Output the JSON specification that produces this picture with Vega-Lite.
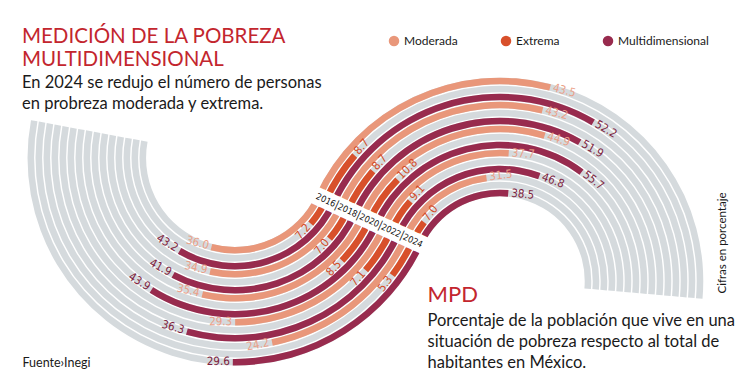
{
  "$schema": "https://vega.github.io/schema/vega-lite/v6.json",
  "width": 750,
  "height": 390,
  "autosize": {"type": "none"},
  "padding": 0,
  "background": "white",
  "title": {
    "text": ["MEDICIÓN DE LA POBREZA", "MULTIDIMENSIONAL"],
    "subtitle": ["En 2024 se redujo el número de personas", "en probreza moderada y extrema."],
    "anchor": "start",
    "frame": "group",
    "orient": "top",
    "offset": -112,
    "dx": 22,
    "font": "Lato",
    "fontSize": 20.5,
    "fontWeight": "normal",
    "color": "#c3262e",
    "lineHeight": 23,
    "subtitleFont": "Lato",
    "subtitleFontSize": 16.5,
    "subtitleColor": "#1a1a1a",
    "subtitleLineHeight": 21,
    "subtitlePadding": 4
  },
  "datasets": {
    "porcentaje": [
      {"medida": "Porcentaje", "anio": "2016", "serie": "Moderada", "key": "2016 Moderada", "valor": 36.0},
      {"medida": "Porcentaje", "anio": "2016", "serie": "Extrema", "key": "2016 Extrema", "valor": 7.2},
      {"medida": "Porcentaje", "anio": "2016", "serie": "Multidimensional", "key": "2016 Multidimensional", "valor": 43.2},
      {"medida": "Porcentaje", "anio": "2018", "serie": "Moderada", "key": "2018 Moderada", "valor": 34.9},
      {"medida": "Porcentaje", "anio": "2018", "serie": "Extrema", "key": "2018 Extrema", "valor": 7.0},
      {"medida": "Porcentaje", "anio": "2018", "serie": "Multidimensional", "key": "2018 Multidimensional", "valor": 41.9},
      {"medida": "Porcentaje", "anio": "2020", "serie": "Moderada", "key": "2020 Moderada", "valor": 35.4},
      {"medida": "Porcentaje", "anio": "2020", "serie": "Extrema", "key": "2020 Extrema", "valor": 8.5},
      {"medida": "Porcentaje", "anio": "2020", "serie": "Multidimensional", "key": "2020 Multidimensional", "valor": 43.9},
      {"medida": "Porcentaje", "anio": "2022", "serie": "Moderada", "key": "2022 Moderada", "valor": 29.3},
      {"medida": "Porcentaje", "anio": "2022", "serie": "Extrema", "key": "2022 Extrema", "valor": 7.1},
      {"medida": "Porcentaje", "anio": "2022", "serie": "Multidimensional", "key": "2022 Multidimensional", "valor": 36.3},
      {"medida": "Porcentaje", "anio": "2024", "serie": "Moderada", "key": "2024 Moderada", "valor": 24.2},
      {"medida": "Porcentaje", "anio": "2024", "serie": "Extrema", "key": "2024 Extrema", "valor": 5.3},
      {"medida": "Porcentaje", "anio": "2024", "serie": "Multidimensional", "key": "2024 Multidimensional", "valor": 29.6}
    ],
    "personas": [
      {"medida": "Millones", "anio": "2016", "serie": "Moderada", "key": "2016 Moderada", "valor": 43.5},
      {"medida": "Millones", "anio": "2016", "serie": "Extrema", "key": "2016 Extrema", "valor": 8.7},
      {"medida": "Millones", "anio": "2016", "serie": "Multidimensional", "key": "2016 Multidimensional", "valor": 52.2},
      {"medida": "Millones", "anio": "2018", "serie": "Moderada", "key": "2018 Moderada", "valor": 43.2},
      {"medida": "Millones", "anio": "2018", "serie": "Extrema", "key": "2018 Extrema", "valor": 8.7},
      {"medida": "Millones", "anio": "2018", "serie": "Multidimensional", "key": "2018 Multidimensional", "valor": 51.9},
      {"medida": "Millones", "anio": "2020", "serie": "Moderada", "key": "2020 Moderada", "valor": 44.9},
      {"medida": "Millones", "anio": "2020", "serie": "Extrema", "key": "2020 Extrema", "valor": 10.8},
      {"medida": "Millones", "anio": "2020", "serie": "Multidimensional", "key": "2020 Multidimensional", "valor": 55.7},
      {"medida": "Millones", "anio": "2022", "serie": "Moderada", "key": "2022 Moderada", "valor": 37.7},
      {"medida": "Millones", "anio": "2022", "serie": "Extrema", "key": "2022 Extrema", "valor": 9.1},
      {"medida": "Millones", "anio": "2022", "serie": "Multidimensional", "key": "2022 Multidimensional", "valor": 46.8},
      {"medida": "Millones", "anio": "2024", "serie": "Moderada", "key": "2024 Moderada", "valor": 31.5},
      {"medida": "Millones", "anio": "2024", "serie": "Extrema", "key": "2024 Extrema", "valor": 7.0},
      {"medida": "Millones", "anio": "2024", "serie": "Multidimensional", "key": "2024 Multidimensional", "valor": 38.5}
    ]
  },
  "layer": [
    {
      "data": {"name": "porcentaje"},
      "encoding": {
        "x": {"field": "medida", "type": "nominal", "scale": {"type": "point", "domain": ["Porcentaje"], "range": [235, 235]},
          "axis": {"orient": "bottom", "labels": false, "ticks": false, "domain": false, "grid": false,
            "title": "MPD", "titleX": 427, "titleY": -89, "titleAlign": "left", "titleBaseline": "alphabetic", "titleAngle": 0,
            "titleFont": "Lato", "titleFontSize": 22, "titleFontWeight": "normal", "titleColor": "#c3262e"}},
        "y": {"field": "medida", "type": "nominal", "scale": {"type": "point", "domain": ["Porcentaje"], "range": [158, 158]},
          "axis": {"orient": "right", "labels": false, "ticks": false, "domain": false, "grid": false,
            "title": "Cifras en porcentaje", "titleX": -25, "titleY": 293, "titleAlign": "left", "titleBaseline": "alphabetic", "titleAngle": 270,
            "titleFont": "Lato", "titleFontSize": 11.5, "titleFontWeight": "normal", "titleColor": "#1a1a1a"}}
      },
      "layer": [
        {
          "mark": {"type": "arc", "color": "#d5dadd"},
          "encoding": {
            "theta": {"datum": 0, "type": "quantitative", "scale": {"domain": [0, 100], "range": [2.0054, 5.88], "nice": false, "zero": false}},
            "theta2": {"datum": 74.6},
            "radius": {"field": "key", "type": "ordinal", "scale": {"type": "band", "domain": ["2016 Moderada","2016 Extrema","2016 Multidimensional","2018 Moderada","2018 Extrema","2018 Multidimensional","2020 Moderada","2020 Extrema","2020 Multidimensional","2022 Moderada","2022 Extrema","2022 Multidimensional","2024 Moderada","2024 Extrema","2024 Multidimensional"], "range": [88.2, 208.2], "paddingInner": 0.18, "paddingOuter": 0.09}}
          }
        },
        {
          "mark": {"type": "arc"},
          "encoding": {
            "theta": {"field": "valor", "type": "quantitative", "stack": null},
            "theta2": {"datum": 0},
            "radius": {"field": "key", "type": "ordinal"},
            "color": {"field": "serie", "type": "nominal", "scale": {"domain": ["Moderada", "Extrema", "Multidimensional"], "range": ["#e9977a", "#d8502b", "#982b4e"]}, "title": null}
          }
        },
        {
          "mark": {"type": "text", "align": "right", "baseline": "middle", "dx": -3, "font": "Liberation Sans Narrow, DejaVu Sans Condensed, sans-serif", "fontSize": 11.5},
          "encoding": {
            "theta": {"field": "valor", "type": "quantitative", "stack": null},
            "radius": {"field": "key", "type": "ordinal"},
            "text": {"field": "valor", "type": "quantitative", "format": ".1f"},
            "angle": {"field": "valor", "type": "quantitative", "scale": {"domain": [0, 100], "range": [-65.1, 156.9], "nice": false, "zero": false}, "legend": null},
            "fill": {"field": "serie", "type": "nominal", "scale": {"domain": ["Moderada", "Extrema", "Multidimensional"], "range": ["#eba088", "#d34a27", "#7f1f40"]}, "legend": null}
          }
        }
      ]
    },
    {
      "data": {"name": "personas"},
      "encoding": {
        "x": {"field": "medida", "type": "nominal", "scale": {"type": "point", "domain": ["Millones"], "range": [500, 500]},
          "axis": {"orient": "top", "labels": false, "ticks": false, "domain": false, "grid": false,
            "title": ["Porcentaje de la población que vive en una", "situación de pobreza respecto al total de", "habitantes en México."],
            "titleX": 427, "titleY": 325, "titleAlign": "left", "titleBaseline": "alphabetic", "titleAngle": 0, "titleLineHeight": 21,
            "titleFont": "Lato", "titleFontSize": 16.5, "titleFontWeight": "normal", "titleColor": "#1a1a1a"}},
        "y": {"field": "medida", "type": "nominal", "scale": {"type": "point", "domain": ["Millones"], "range": [281, 281]},
          "axis": {"orient": "left", "labels": false, "ticks": false, "domain": false, "grid": false,
            "title": "Fuente›Inegi", "titleX": 22, "titleY": 366, "titleAlign": "left", "titleBaseline": "alphabetic", "titleAngle": 0,
            "titleFont": "Lato", "titleFontSize": 12.5, "titleFontWeight": "normal", "titleColor": "#1a1a1a"}}
      },
      "layer": [
        {
          "mark": {"type": "arc", "color": "#d5dadd"},
          "encoding": {
            "theta": {"datum": 0, "type": "quantitative", "scale": {"domain": [0, 100], "range": [-1.1362, 2.0577], "nice": false, "zero": false}},
            "theta2": {"datum": 87.5},
            "radius": {"field": "key", "type": "ordinal", "scale": {"type": "band", "domain": ["2016 Moderada","2016 Extrema","2016 Multidimensional","2018 Moderada","2018 Extrema","2018 Multidimensional","2020 Moderada","2020 Extrema","2020 Multidimensional","2022 Moderada","2022 Extrema","2022 Multidimensional","2024 Moderada","2024 Extrema","2024 Multidimensional"], "range": [84, 204], "reverse": true, "paddingInner": 0.18, "paddingOuter": 0.09}}
          }
        },
        {
          "mark": {"type": "arc"},
          "encoding": {
            "theta": {"field": "valor", "type": "quantitative", "stack": null},
            "theta2": {"datum": 0},
            "radius": {"field": "key", "type": "ordinal"},
            "color": {"field": "serie", "type": "nominal", "title": null}
          }
        },
        {
          "mark": {"type": "text", "align": "left", "baseline": "middle", "dx": 3, "font": "Liberation Sans Narrow, DejaVu Sans Condensed, sans-serif", "fontSize": 11.5},
          "encoding": {
            "theta": {"field": "valor", "type": "quantitative", "stack": null},
            "radius": {"field": "key", "type": "ordinal"},
            "text": {"field": "valor", "type": "quantitative", "format": ".1f"},
            "angle": {"field": "valor", "type": "quantitative", "scale": {"domain": [0, 100], "range": [-65.1, 117.9], "nice": false, "zero": false}, "legend": null},
            "fill": {"field": "serie", "type": "nominal", "scale": {"domain": ["Moderada", "Extrema", "Multidimensional"], "range": ["#eba088", "#d34a27", "#7f1f40"]}, "legend": null}
          }
        }
      ]
    },
    {
      "data": {"name": "porcentaje"},
      "encoding": {
        "x": {"field": "medida", "type": "nominal", "scale": {"type": "point", "domain": ["Porcentaje"], "range": [235, 235]}, "axis": null},
        "y": {"field": "medida", "type": "nominal", "scale": {"type": "point", "domain": ["Porcentaje"], "range": [158, 158]}, "axis": null},
        "theta": {"datum": 0, "type": "quantitative", "scale": {"domain": [0, 100], "range": [2.0054, 5.88], "nice": false, "zero": false}},
        "radius": {"field": "key", "type": "ordinal", "scale": {"type": "band", "domain": ["2016 Moderada","2016 Extrema","2016 Multidimensional","2018 Moderada","2018 Extrema","2018 Multidimensional","2020 Moderada","2020 Extrema","2020 Multidimensional","2022 Moderada","2022 Extrema","2022 Multidimensional","2024 Moderada","2024 Extrema","2024 Multidimensional"], "range": [88.2, 208.2], "paddingInner": 0.18, "paddingOuter": 0.09}}
      },
      "layer": [
        {
          "mark": {"type": "text", "align": "center", "baseline": "middle", "angle": 24.9, "color": "white", "font": "DejaVu Sans", "fontSize": 15, "text": "█"}
        },
        {
          "transform": [{"filter": "datum.serie === 'Extrema'"}],
          "mark": {"type": "text", "align": "center", "baseline": "middle", "angle": 24.9, "color": "#111111", "font": "Liberation Sans Narrow, DejaVu Sans Condensed, sans-serif", "fontSize": 9},
          "encoding": {
            "text": {"field": "anio", "type": "nominal"}
          }
        },
        {
          "transform": [{"filter": "datum.serie === 'Multidimensional' && datum.anio !== '2024'"}],
          "mark": {"type": "text", "align": "center", "baseline": "middle", "angle": 24.9, "dx": 4, "color": "#111111", "font": "Liberation Sans Narrow, DejaVu Sans Condensed, sans-serif", "fontSize": 11, "text": "|"}
        }
      ]
    }
  ],
  "resolve": {
    "scale": {"x": "independent", "y": "independent", "theta": "independent", "radius": "independent", "angle": "independent", "fill": "independent"},
    "axis": {"x": "independent", "y": "independent"}
  },
  "config": {
    "view": {"stroke": null},
    "legend": {
      "orient": "none", "legendX": 388, "legendY": 35, "direction": "horizontal",
      "symbolType": "circle", "symbolSize": 110, "symbolStrokeWidth": 0,
      "labelFont": "Lato", "labelFontSize": 12, "labelColor": "#1a1a1a", "labelOffset": 4,
      "columnPadding": 42, "padding": 0
    }
  }
}
